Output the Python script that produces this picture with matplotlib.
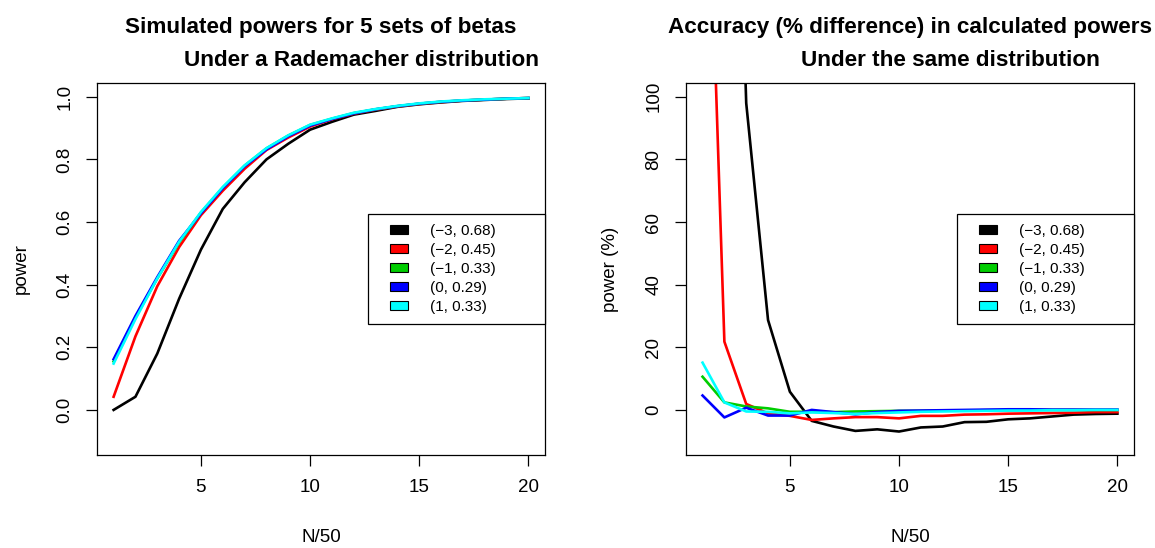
import numpy as np
import matplotlib
matplotlib.use("Agg")
import matplotlib.pyplot as plt
from matplotlib.patches import Rectangle, Patch
from matplotlib.legend_handler import HandlerPatch

plt.rcParams['font.family'] = ['Liberation Sans', 'DejaVu Sans']

n = list(range(1, 21))

# simulated power per beta set
sim_m3 = [0.0, 0.042, 0.18, 0.355, 0.512, 0.642, 0.727, 0.80, 0.85, 0.895,
          0.92, 0.943, 0.955, 0.968, 0.976, 0.982, 0.987, 0.990, 0.993, 0.995]
sim_m2 = [0.042, 0.235, 0.395, 0.52, 0.622, 0.70, 0.77, 0.83, 0.87, 0.905,
          0.928, 0.946, 0.959, 0.969, 0.977, 0.983, 0.988, 0.991, 0.994, 0.996]
sim_m1 = [0.155, 0.295, 0.42, 0.535, 0.63, 0.71, 0.78, 0.835, 0.876, 0.91,
          0.93, 0.948, 0.96, 0.97, 0.978, 0.984, 0.988, 0.991, 0.994, 0.996]
sim_0 = [0.162, 0.30, 0.424, 0.54, 0.628, 0.708, 0.778, 0.832, 0.874, 0.908,
         0.929, 0.947, 0.96, 0.97, 0.978, 0.984, 0.988, 0.991, 0.994, 0.996]
sim_1 = [0.148, 0.29, 0.42, 0.537, 0.632, 0.712, 0.781, 0.836, 0.877, 0.911,
         0.931, 0.949, 0.961, 0.971, 0.979, 0.985, 0.989, 0.992, 0.994, 0.996]

# % difference between calculated and simulated power
acc_m3 = [np.nan, 320, 98, 28.7, 5.8, -3.5, -5.3, -6.7, -6.2, -6.9,
          -5.6, -5.3, -3.9, -3.8, -3.0, -2.7, -2.1, -1.5, -1.3, -1.2]
acc_m2 = [234, 21.8, 1.9, -1.1, -1.9, -3.2, -2.7, -2.3, -2.3, -2.7,
          -1.9, -1.9, -1.5, -1.4, -1.2, -1.1, -1.0, -0.9, -0.7, -0.7]
acc_m1 = [10.6, 2.4, 1.1, 0.5, -0.6, -0.6, -0.7, -0.5, -0.4, -0.3,
          -0.3, -0.2, -0.2, -0.1, -0.1, 0.0, 0.0, 0.0, 0.0, 0.0]
acc_0 = [4.6, -2.4, 0.7, -1.8, -1.8, 0.0, -0.7, -1.4, -0.7, -0.3,
         -0.2, -0.1, 0.0, 0.1, 0.2, 0.2, 0.1, 0.1, 0.1, 0.1]
acc_1 = [15.1, 2.4, -0.5, -0.6, -1.1, -0.8, -1.0, -1.3, -1.0, -0.8,
         -0.6, -0.5, -0.4, -0.3, -0.2, -0.2, -0.1, -0.1, 0.0, 0.0]

labels = ['(\u22123, 0.68)', '(\u22122, 0.45)', '(\u22121, 0.33)', '(0, 0.29)', '(1, 0.33)']
cols = ['black', '#FF0000', '#00CD00', '#0000FF', '#00FFFF']

FS = 13.5


def boxed(legend, orig_handle, xdescent, ydescent, width, height, fontsize):
    # small filled box sitting at the right end of the handle area
    w = 1.18 * fontsize
    h = 0.59 * fontsize
    return Rectangle((width - w - xdescent, -ydescent + (height - h) / 2), w, h)


def r_axes(ax, ylim, yticks, ylabel):
    ax.set_xlim(0.24, 20.76)
    ax.set_ylim(*ylim)
    ax.set_xticks([5, 10, 15, 20])
    ax.set_yticks(yticks)
    ax.tick_params(direction='out', length=8, width=0.9, labelsize=FS, pad=9,
                   top=False, right=False)
    for lab in ax.get_yticklabels():
        lab.set_rotation(90)
        lab.set_va('center')
    for s in ax.spines.values():
        s.set_linewidth(0.9)
    ax.set_xlabel('N/50', fontsize=FS, labelpad=24)
    ax.set_ylabel(ylabel, fontsize=FS, labelpad=19)


def add_legend(ax):
    handles = [Patch(facecolor=c, edgecolor='black', linewidth=0.8) for c in cols]
    leg = ax.legend(handles, labels, loc='center', mode='expand',
                    bbox_to_anchor=(0.605, 0.5, 0.395, 0),
                    fontsize=11, handlelength=1.92, handletextpad=1.44,
                    labelspacing=0.32, borderpad=0.68, borderaxespad=0,
                    fancybox=False, framealpha=1,
                    handler_map={Patch: HandlerPatch(patch_func=boxed)})
    leg.get_frame().set_edgecolor('black')
    leg.get_frame().set_linewidth(0.9)


fig = plt.figure(figsize=(11.55, 5.48), dpi=100)
ax1 = fig.add_axes([0.0840, 0.1697, 0.3879, 0.6788])
ax2 = fig.add_axes([0.5939, 0.1697, 0.3879, 0.6788])

for y, c in zip([sim_m3, sim_m2, sim_m1, sim_0, sim_1], cols):
    ax1.plot(n, y, color=c, lw=1.9)
r_axes(ax1, (-0.144, 1.044), [0.0, 0.2, 0.4, 0.6, 0.8, 1.0], 'power')
ax1.set_yticklabels(['0.0', '0.2', '0.4', '0.6', '0.8', '1.0'])
add_legend(ax1)
ax1.text(0.5, 1.1505, 'Simulated powers for 5 sets of betas', transform=ax1.transAxes,
         ha='center', va='center', fontsize=16.2, fontweight='bold')
ax1.text(0.59, 1.0618, 'Under a Rademacher distribution', transform=ax1.transAxes,
         ha='center', va='center', fontsize=16.2, fontweight='bold')

for y, c in zip([acc_m3, acc_m2, acc_m1, acc_0, acc_1], cols):
    ax2.plot(n, y, color=c, lw=1.9)
r_axes(ax2, (-14.4, 104.4), [0, 20, 40, 60, 80, 100], 'power (%)')
add_legend(ax2)
ax2.text(0.5, 1.1505, 'Accuracy (% difference) in calculated powers', transform=ax2.transAxes,
         ha='center', va='center', fontsize=16.2, fontweight='bold')
ax2.text(0.59, 1.0618, 'Under the same distribution', transform=ax2.transAxes,
         ha='center', va='center', fontsize=16.2, fontweight='bold')

fig.savefig('out.png', dpi=100)
